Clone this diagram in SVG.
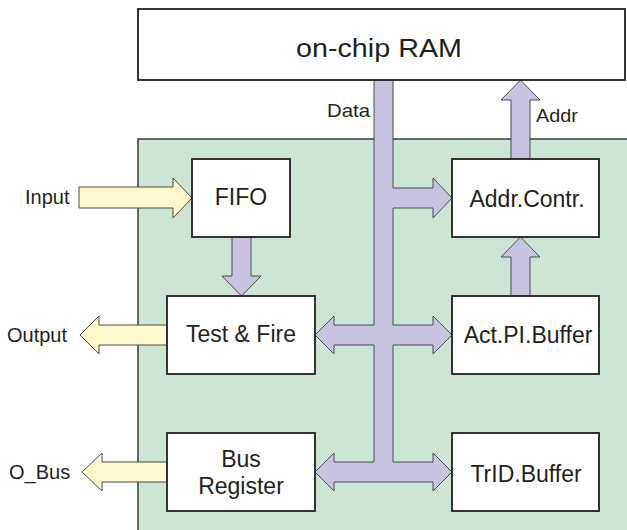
<svg xmlns="http://www.w3.org/2000/svg" width="627" height="530" viewBox="0 0 627 530">
<style>
.box{fill:#ffffff;stroke:#231f20;stroke-width:1.8}
.bus{fill:#c7c3e0;stroke:#4a4a4a;stroke-width:1}
.io{fill:#fdf9cd;stroke:#4a4a4a;stroke-width:1}
text{font-family:"Liberation Sans",Arial,sans-serif;fill:#231f20}
.nl{font-size:23px;text-anchor:middle}
.el{font-size:20px}
</style>
<rect x="0" y="0" width="627" height="530" fill="#ffffff"/>
<g id="panel">
<rect x="138" y="139" width="500" height="400" fill="#cce5d5" stroke="#231f20" stroke-width="1.3"/>
</g>
<g id="connectors">
<polygon class="bus" points="374,80 393,80 393,188 433,188 433,178 452,198 433,218 433,208 393,208 393,325 433,325 433,316 452,335 433,354 433,345 393,345 393,462 433,462 433,453 452,472 433,491 433,482 334,482 334,491 315,472 334,453 334,462 374,462 374,345 334,345 334,354 315,335 334,316 334,325 374,325"/>
<polygon class="bus" points="511,159 511,100 501,100 520.5,80 540,100 530,100 530,159"/>
<polygon class="bus" points="511,296 511,257 501,257 520.5,237 540,257 530,257 530,296"/>
<polygon class="bus" points="232,237 251,237 251,276 261,276 241.5,296 222,276 232,276"/>
<polygon class="io" points="79,187 173,187 173,178 192,198 173,218 173,208 79,208"/>
<polygon class="io" points="167,325 99,325 99,316 80,335 99,354 99,345 167,345"/>
<polygon class="io" points="167,462 102,462 102,453 82,472 102,491 102,482 167,482"/>
<text x="327" y="117" font-size="19" textLength="43" lengthAdjust="spacingAndGlyphs">Data</text>
<text x="536" y="122" font-size="19" textLength="42" lengthAdjust="spacingAndGlyphs">Addr</text>
<text class="el" x="25" y="204" font-size="19.5">Input</text>
<text class="el" x="7" y="342">Output</text>
<text class="el" x="9" y="479">O_Bus</text>
</g>
<g id="ram">
<rect class="box" x="138" y="9" width="487" height="71"/>
<text x="379" y="57" font-size="26" text-anchor="middle" textLength="166" lengthAdjust="spacingAndGlyphs">on-chip RAM</text>
</g>
<g id="fifo">
<rect class="box" x="192" y="159" width="98" height="78"/>
<text class="nl" x="241" y="205">FIFO</text>
</g>
<g id="testfire">
<rect class="box" x="167" y="296" width="148" height="78"/>
<text class="nl" x="241" y="342">Test &amp; Fire</text>
</g>
<g id="busregister">
<rect class="box" x="167" y="433" width="148" height="78"/>
<text class="nl" x="241" y="467">Bus</text>
<text class="nl" x="241" y="494">Register</text>
</g>
<g id="addrcontr">
<rect class="box" x="452" y="159" width="147" height="78"/>
<text class="nl" x="527" y="207">Addr.Contr.</text>
</g>
<g id="actplbuffer">
<rect class="box" x="452" y="296" width="147" height="78"/>
<text class="nl" x="528" y="343">Act.PI.Buffer</text>
</g>
<g id="tridbuffer">
<rect class="box" x="452" y="433" width="147" height="78"/>
<text class="nl" x="526" y="482">TrID.Buffer</text>
</g>
</svg>
